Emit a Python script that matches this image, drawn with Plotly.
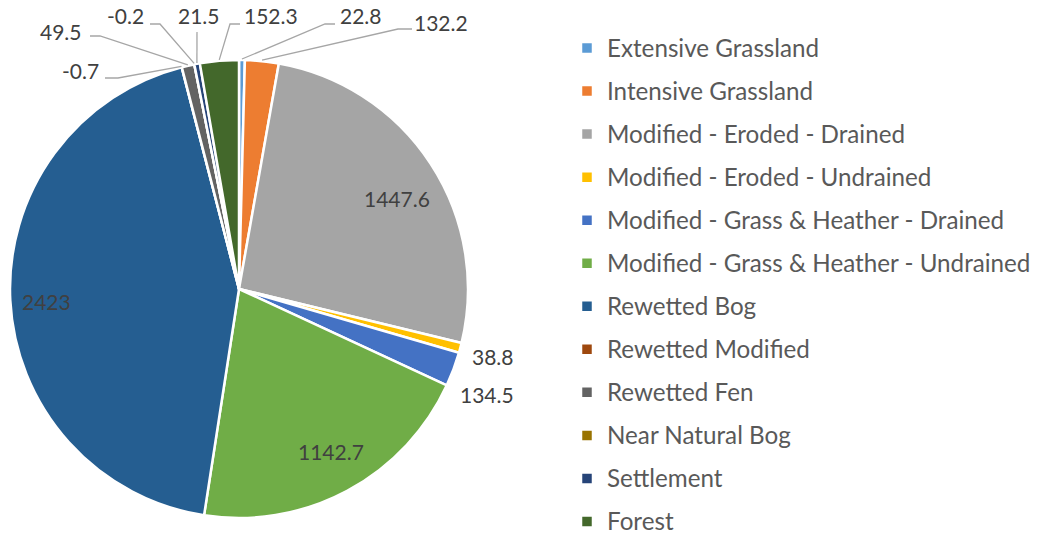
import math
import plotly.graph_objects as go

# ---------------- data ----------------
categories = [
    "Extensive Grassland",
    "Intensive Grassland",
    "Modified - Eroded - Drained",
    "Modified - Eroded - Undrained",
    "Modified - Grass & Heather - Drained",
    "Modified - Grass & Heather - Undrained",
    "Rewetted Bog",
    "Rewetted Modified",
    "Rewetted Fen",
    "Near Natural Bog",
    "Settlement",
    "Forest",
]
values = [22.8, 132.2, 1447.6, 38.8, 134.5, 1142.7, 2423, -0.7, 49.5, -0.2, 21.5, 152.3]
value_labels = ["22.8", "132.2", "1447.6", "38.8", "134.5", "1142.7", "2423",
                "-0.7", "49.5", "-0.2", "21.5", "152.3"]
colors = ["#5B9BD5", "#ED7D31", "#A5A5A5", "#FFC000", "#4472C4", "#70AD47",
          "#255E91", "#9E480E", "#636363", "#997300", "#264478", "#43682B"]

# ---------------- layout constants ----------------
W, H = 1041, 534
PIE_X = (10, 468)   # px
PIE_Y = (60, 518)   # px (top, bottom)
cx = sum(PIE_X) / 2
cy = sum(PIE_Y) / 2
R = (PIE_X[1] - PIE_X[0]) / 2

LABEL_FONT = dict(family="Lato", size=21, color="#404040")
LEGEND_TEXT_PX = 24.2
LABEL_DY = -3  # digits sit slightly low in the text box

# label centre positions (px)
label_pos = {0: (361, 19), 1: (441, 26), 2: (397, 201), 3: (493, 359), 4: (487, 397),
             5: (331, 454), 6: (46, 304), 7: (80, 73), 8: (61, 34), 9: (125, 19),
             10: (199, 19), 11: (271, 19)}
# leader line points from label towards the slice
leader = {0: [(335, 24), (325, 24)], 1: [(412, 29), (398, 29)],
          7: [(105, 78), (118, 78)], 8: [(90, 36), (100, 36)],
          9: [(150, 24), (160, 24)], 10: [(197, 32)], 11: [(240, 24), (230, 24)]}


def to_paper(px, py):
    return px / W, 1 - py / H


sizes = [abs(v) for v in values]
total = sum(sizes)
mid_angles = []
acc = 0.0
for s in sizes:
    mid_angles.append((acc + s / 2) / total * 2 * math.pi)
    acc += s

annotations = []
shapes = []
for i, txt in enumerate(value_labels):
    lx, ly = label_pos[i]
    fx, fy = to_paper(lx, ly + LABEL_DY)
    annotations.append(dict(x=fx, y=fy, xref="paper", yref="paper", text=txt,
                            showarrow=False, font=LABEL_FONT,
                            xanchor="center", yanchor="middle"))
    if i in leader:
        a = mid_angles[i]
        ax = cx + (R + 1) * math.sin(a)
        ay = cy - (R + 1) * math.cos(a)
        pts = leader[i] + [(ax, ay)]
        path = "M " + " L ".join(
            f"{to_paper(px, py)[0]:.5f},{to_paper(px, py)[1]:.5f}" for px, py in pts)
        shapes.append(dict(type="path", path=path, xref="paper", yref="paper",
                           line=dict(color="#A6A6A6", width=1.3)))

legend_labels = [
    f'<span style="font-size:{LEGEND_TEXT_PX}px;baseline-shift:3px">{c}</span>'
    for c in categories]

fig = go.Figure(go.Pie(
    labels=legend_labels,
    values=sizes,
    sort=False,
    direction="clockwise",
    rotation=0,
    marker=dict(colors=colors, line=dict(color="white", width=2.5)),
    textinfo="none",
    hoverinfo="skip",
    domain=dict(x=[PIE_X[0] / W, PIE_X[1] / W],
                y=[1 - PIE_Y[1] / H, 1 - PIE_Y[0] / H]),
))

fig.update_layout(
    width=W, height=H,
    margin=dict(l=0, r=0, t=0, b=0, autoexpand=False),
    paper_bgcolor="white",
    plot_bgcolor="white",
    showlegend=True,
    legend=dict(x=567 / W, y=1 - 21.5 / H, xanchor="left", yanchor="top",
                font=dict(family="Lato", size=30.8, color="#595959"),
                bgcolor="rgba(0,0,0,0)", borderwidth=0),
    annotations=annotations,
    shapes=shapes,
)

fig.write_html("out.html", config={"displayModeBar": False},
               post_script="document.body.style.margin='0';")
